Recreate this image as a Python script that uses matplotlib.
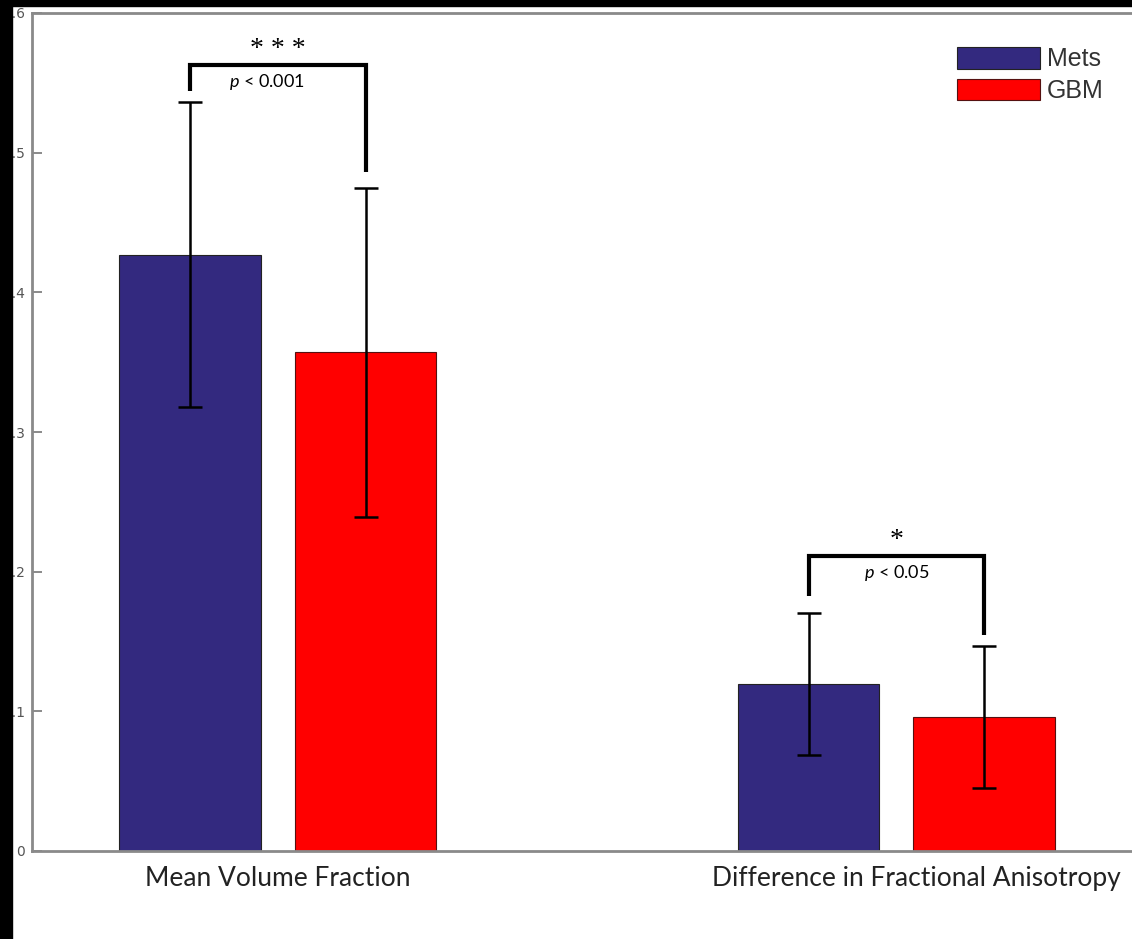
import numpy as np
import matplotlib
matplotlib.use("Agg")
import matplotlib.pyplot as plt
from matplotlib.patches import Rectangle

# data
groups = ["Mean Volume Fraction", "Difference in Fractional Anisotropy"]
series = ["Mets", "GBM"]
mets_mean = [0.427, 0.1195]
mets_err = [0.109, 0.051]
gbm_mean = [0.357, 0.096]
gbm_err = [0.118, 0.051]
y_ticks = [0, 0.1, 0.2, 0.3, 0.4, 0.5, 0.6]
y_tick_labels = ["0", "0.1", "0.2", "0.3", "0.4", "0.5", "0.6"]
stars = ["***", "*"]
p_texts = ["$p$ < 0.001", "$p$ < 0.05"]
bracket_top = [0.5626, 0.211]
bracket_left_low = [0.544, 0.1825]
bracket_right_low = [0.486, 0.1546]

plt.rcParams["mathtext.fontset"] = "custom"
plt.rcParams["mathtext.it"] = "Lato:italic"
plt.rcParams["mathtext.rm"] = "Lato"

W, H = 1132, 939
fig = plt.figure(figsize=(W / 100, H / 100), dpi=100)
ax = fig.add_axes([32 / W, 88 / H, 1115 / W, 838 / H])

x = np.arange(1, len(groups) + 1)
off = 0.142
bw = 0.229
mets_color = "#33297f"
gbm_color = "#ff0000"

err_kw = dict(ecolor="black", elinewidth=1.8, capsize=8.5, capthick=1.8)
ax.bar(x - off, mets_mean, bw, yerr=mets_err, color=mets_color,
       edgecolor="#222222", linewidth=0.8, label=series[0], error_kw=err_kw)
ax.bar(x + off, gbm_mean, bw, yerr=gbm_err, color=gbm_color,
       edgecolor="#551111", linewidth=0.8, label=series[1], error_kw=err_kw)

# significance brackets
p_shift = [-0.018, 0.0]
for i in range(len(groups)):
    xl, xr = x[i] - off, x[i] + off
    ax.plot([xl, xl, xr, xr],
            [bracket_left_low[i], bracket_top[i], bracket_top[i], bracket_right_low[i]],
            color="black", lw=3, solid_joinstyle="miter", solid_capstyle="butt")
    ax.text(x[i], bracket_top[i] + 0.0025, " ".join(stars[i]), ha="center",
            va="bottom", family="Liberation Serif", fontsize=20)
    ax.text(x[i] + p_shift[i], bracket_top[i] - 0.005, p_texts[i], ha="center",
            va="top", family="Lato", fontsize=13)

ax.set_xlim(0.603, 2.405)
ax.set_ylim(0, 0.6)
ax.set_xticks([])
ax.set_yticks(y_ticks)
ax.set_yticklabels(y_tick_labels)
ax.tick_params(axis="y", direction="in", length=7, width=1.2, color="#777777",
               labelcolor="#555555", labelsize=10, pad=5)
for s in ax.spines.values():
    s.set_color("#8a8a8a")
    s.set_linewidth(2)

# category labels below the axis
label_shift = [0, 0.032]
for i, g in enumerate(groups):
    ax.text(x[i] + label_shift[i], -0.020, g, ha="center", va="center",
            family="Lato", fontsize=19, color="#222222")

leg = fig.legend(loc="upper left", bbox_to_anchor=(957 / W, 1 - 47 / H),
                 frameon=False, handlelength=3.3, handleheight=0.95,
                 handletextpad=0.3, labelspacing=0.3, borderpad=0, borderaxespad=0,
                 prop={"family": "Liberation Sans", "size": 18})
for t in leg.get_texts():
    t.set_color("#333333")

# black crop edges of the original picture
fig.patches.append(Rectangle((0, 0), 12 / W, 1, transform=fig.transFigure,
                             color="black", zorder=10))
fig.patches.append(Rectangle((0, 1 - 6 / H), 1, 6 / H, transform=fig.transFigure,
                             color="black", zorder=10))

fig.savefig("out.png", dpi=100)
